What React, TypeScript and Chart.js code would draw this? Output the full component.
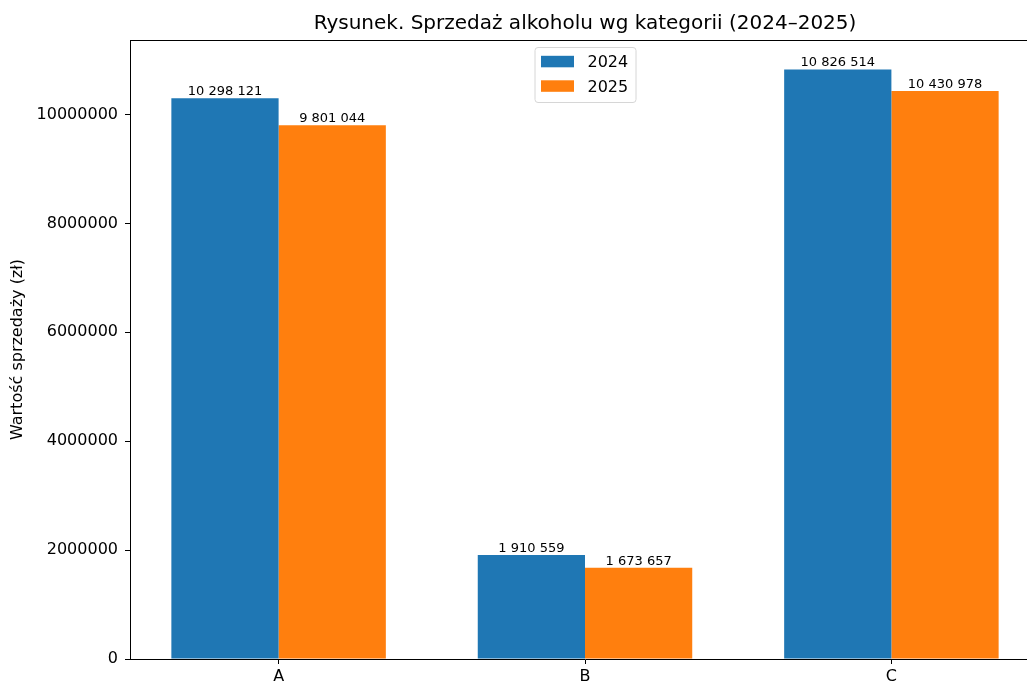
import React, { useEffect, useRef } from "react";
import { Chart, registerables } from "chart.js";

Chart.register(...registerables);

const categories = ["A", "B", "C"];
const seriesLabels = ["2024", "2025"];
const sales2024 = [10298121, 1910559, 10826514];
const sales2025 = [9801044, 1673657, 10430978];
const yTickValues = [0, 2000000, 4000000, 6000000, 8000000, 10000000];
const seriesColors = ["#1f77b4", "#ff7f0e"];
const titleText = "Rysunek. Sprzedaż alkoholu wg kategorii (2024–2025)";
const yAxisTitle = "Wartość sprzedaży (zł)";

const FONT = '"DejaVu Sans", "Liberation Sans", sans-serif';

const fmt = (v: number) => String(v).replace(/\B(?=(\d{3})+(?!\d))/g, " ");

const overlayPlugin = {
  id: "overlay",
  afterDraw(chart: any) {
    const { ctx, chartArea: a } = chart;
    ctx.save();
    // top spine
    ctx.strokeStyle = "#000";
    ctx.lineWidth = 1;
    const ty = Math.round(a.top) + 0.5;
    ctx.beginPath();
    ctx.moveTo(a.left, ty);
    ctx.lineTo(a.right, ty);
    ctx.stroke();

    // title
    ctx.fillStyle = "#000";
    ctx.font = `20px ${FONT}`;
    ctx.textAlign = "center";
    ctx.textBaseline = "alphabetic";
    ctx.fillText(titleText, (a.left + a.right) / 2, 29);

    // bar labels
    ctx.font = `13px ${FONT}`;
    ctx.textBaseline = "bottom";
    chart.data.datasets.forEach((ds: any, i: number) => {
      chart.getDatasetMeta(i).data.forEach((el: any, j: number) => {
        ctx.fillText(fmt(ds.data[j].y), el.x, el.y);
      });
    });

    // legend
    const bw = 101;
    const bh = 55;
    const bx = (a.left + a.right) / 2 - bw / 2;
    const by = a.top + 7;
    ctx.beginPath();
    if ((ctx as any).roundRect) (ctx as any).roundRect(bx + 0.5, by + 0.5, bw, bh, 3);
    else ctx.rect(bx + 0.5, by + 0.5, bw, bh);
    ctx.fillStyle = "rgba(255,255,255,0.8)";
    ctx.fill();
    ctx.strokeStyle = "#d6d6d6";
    ctx.lineWidth = 1;
    ctx.stroke();
    ctx.font = `16px ${FONT}`;
    ctx.textAlign = "left";
    ctx.textBaseline = "alphabetic";
    chart.data.datasets.forEach((ds: any, i: number) => {
      const rowY = by + i * 24.5;
      ctx.fillStyle = ds.backgroundColor;
      ctx.fillRect(bx + 6.5, rowY + 8.8, 33, 11.5);
      ctx.fillStyle = "#000";
      ctx.fillText(ds.label, bx + 53, rowY + 20.3);
    });
    ctx.restore();
  },
};

export default function App() {
  const canvasRef = useRef<HTMLCanvasElement | null>(null);

  useEffect(() => {
    const canvas = canvasRef.current;
    if (!canvas) return;
    const series = [sales2024, sales2025];
    const allValues = [...sales2024, ...sales2025];
    const chart = new Chart(canvas, {
      type: "bar",
      data: {
        datasets: series.map((vals, si) => ({
          label: seriesLabels[si],
          data: vals.map((v, i) => ({ x: i, y: v })),
          backgroundColor: seriesColors[si],
          borderWidth: 0,
          categoryPercentage: 0.7,
          barPercentage: 1.0,
        })),
      },
      options: {
        responsive: false,
        animation: false,
        devicePixelRatio: 1,
        layout: { padding: { top: 40, left: 0, right: 20, bottom: 0 } },
        font: { family: FONT },
        plugins: {
          legend: { display: false },
          title: { display: false },
          tooltip: { enabled: false },
        },
        scales: {
          x: {
            type: "linear",
            min: -0.485,
            max: categories.length - 1 + 0.485,
            offset: false,
            grid: {
              display: true,
              drawOnChartArea: false,
              offset: false,
              drawTicks: true,
              tickLength: 5,
              tickColor: "#000",
              tickWidth: 1,
            },
            border: { display: true, color: "#000", width: 1 },
            ticks: {
              color: "#000",
              font: { family: FONT, size: 16 },
              padding: 3,
              autoSkip: false,
              maxRotation: 0,
              callback: (v: any) => categories[v as number] ?? "",
            },
            afterBuildTicks: (s: any) => {
              s.ticks = categories.map((_, i) => ({ value: i }));
            },
            afterFit: (s: any) => {
              s.height = 25;
            },
          },
          y: {
            type: "linear",
            min: 0,
            max: Math.max(...allValues) * 1.05,
            grid: {
              display: true,
              drawOnChartArea: false,
              drawTicks: true,
              tickLength: 5,
              tickColor: "#000",
              tickWidth: 1,
            },
            border: { display: true, color: "#000", width: 1 },
            ticks: {
              color: "#000",
              font: { family: FONT, size: 16 },
              padding: 7,
              callback: (v: any) => String(v),
            },
            afterBuildTicks: (s: any) => {
              s.ticks = yTickValues.map((v) => ({ value: v }));
            },
            afterFit: (s: any) => {
              s.width = 130;
            },
            title: {
              display: true,
              text: yAxisTitle,
              color: "#000",
              font: { family: FONT, size: 16 },
              padding: { top: 8, bottom: 0 },
            },
          },
        },
      } as any,
      plugins: [overlayPlugin],
    });
    return () => chart.destroy();
  }, []);

  return (
    <div
      style={{
        position: "absolute",
        left: 0,
        top: 0,
        width: 1027,
        height: 684,
        overflow: "hidden",
        background: "#fff",
      }}
    >
      <canvas ref={canvasRef} width={1060} height={684} style={{ display: "block" }} />
    </div>
  );
}
